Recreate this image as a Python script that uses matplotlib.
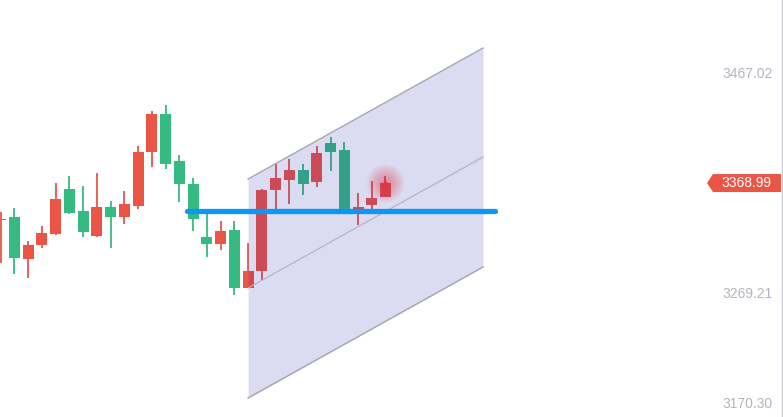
import matplotlib
matplotlib.use("Agg")
import matplotlib.pyplot as plt
from matplotlib.patches import Polygon
import numpy as np

# ---- data ----
opens  = [3335.5, 3338.4, 3301.0, 3313.5, 3323.2, 3363.6, 3343.8, 3321.4, 3347.4, 3338.4,
          3348.3, 3396.9, 3431.1, 3388.8, 3368.1, 3320.5, 3314.2, 3326.8, 3274.6, 3290.2,
          3362.7, 3371.7, 3380.7, 3369.9, 3405.0, 3398.7, 3345.6, 3349.2, 3356.4]
closes = [3336.0, 3301.9, 3313.3, 3324.1, 3354.6, 3342.0, 3325.0, 3347.4, 3338.4, 3350.1,
          3396.9, 3431.1, 3386.1, 3368.1, 3336.7, 3314.2, 3325.9, 3274.6, 3289.9, 3362.7,
          3373.5, 3380.7, 3368.1, 3396.0, 3396.9, 3344.7, 3347.4, 3355.5, 3368.99]
highs  = [3343.2, 3346.8, 3316.9, 3330.4, 3369.0, 3375.3, 3366.3, 3378.0, 3352.8, 3361.8,
          3402.3, 3433.8, 3439.2, 3394.2, 3373.5, 3342.9, 3334.9, 3334.9, 3315.1, 3363.6,
          3386.1, 3390.6, 3386.1, 3402.3, 3410.4, 3405.9, 3360.0, 3370.8, 3375.3]
lows   = [3297.4, 3287.5, 3283.9, 3310.8, 3322.3, 3341.2, 3320.5, 3320.5, 3310.6, 3332.2,
          3345.6, 3383.4, 3381.6, 3351.9, 3325.9, 3302.5, 3308.8, 3268.3, 3274.6, 3281.8,
          3345.6, 3350.1, 3358.2, 3365.4, 3379.8, 3344.7, 3331.3, 3345.6, 3356.4]

axis_ticks = [3467.02, 3269.21, 3170.30]
last_price = 3368.99

# parallel channel drawing (bar-index x, price y)
chan_x   = [18.0, 35.1]
chan_top = [3372.6, 3490.4]
chan_mid = [3274.6, 3392.4]
chan_bot = [3175.7, 3293.5]

# horizontal line drawing
hline_level = 3343.8
hline_x = [13.56, 35.97]

# ---- styling ----
UP = "#eb5545"
DOWN = "#35bb82"
W, H = 783, 417

fig = plt.figure(figsize=(W / 100, H / 100), dpi=100)
ax = fig.add_axes([0, 0, 1, 1])
ax.set_axis_off()
ax.set_xlim(-0.0546, 56.93)
ax.set_ylim(3158.63, 3533.56)

n = len(opens)
x = np.arange(n)
for i in range(n):
    o, c, h, l = opens[i], closes[i], highs[i], lows[i]
    col = UP if c >= o else DOWN
    ax.vlines(x[i], l, h, color=col, lw=1.3, zorder=2)
    bottom = min(o, c)
    height = max(abs(c - o), 1.2)
    ax.bar(x[i], height, bottom=bottom, width=0.8, color=col, zorder=3, linewidth=0)

# channel fill + lines
xs = np.array(chan_x)
ax.fill_between(xs, chan_bot, chan_top, color=(31 / 255, 31 / 255, 172 / 255), alpha=0.156,
                linewidth=0, zorder=4)
ax.plot(xs, chan_top, color="#a4a4ac", lw=1.0, zorder=5)
ax.plot(xs, chan_bot, color="#a4a4ac", lw=1.0, zorder=5)
ax.plot(xs, chan_mid, color="#b4b4c4", lw=0.9, zorder=5)

# blue horizontal line
ax.plot(hline_x, [hline_level, hline_level], color="#0a98f5", lw=3.8,
        solid_capstyle="round", zorder=6)

# glow on last candle
gx, gy = x[-1], last_price
for r in np.linspace(19, 3, 14):
    ax.scatter([gx], [gy], s=(2 * r * 0.72) ** 2, color="#ee3040", alpha=0.04,
               linewidths=0, zorder=7)
ax.scatter([gx], [gy], s=(2 * 2.2 * 0.72) ** 2, color="#e8303f", alpha=0.8,
           linewidths=0, zorder=8)

# right axis line
ax.axvline((781.5 / W) * (56.93 + 0.0546) - 0.0546, color="#c8c8d2", lw=1.0, zorder=1)

# tick labels
ytr = ax.get_yaxis_transform()
for t in axis_ticks:
    ax.text(773 / W, t, f"{t:.2f}", transform=ytr, ha="right", va="center",
            fontsize=10, color="#b4b4c0", family="Liberation Sans")

# last price tag
fig.canvas.draw()
py = ax.transData.transform((0, last_price))[1]
tag = [(707, py), (713, py + 9), (781, py + 9), (781, py - 9), (713, py - 9)]
fig.patches.append(Polygon(tag, closed=True, transform=None, facecolor="#eb5545",
                           edgecolor="none", zorder=10))
fig.text(771 / W, py / H, f"{last_price:.2f}", ha="right", va="center",
         fontsize=10, color="white", family="Liberation Sans", zorder=11)

fig.savefig("out.png", dpi=100)
